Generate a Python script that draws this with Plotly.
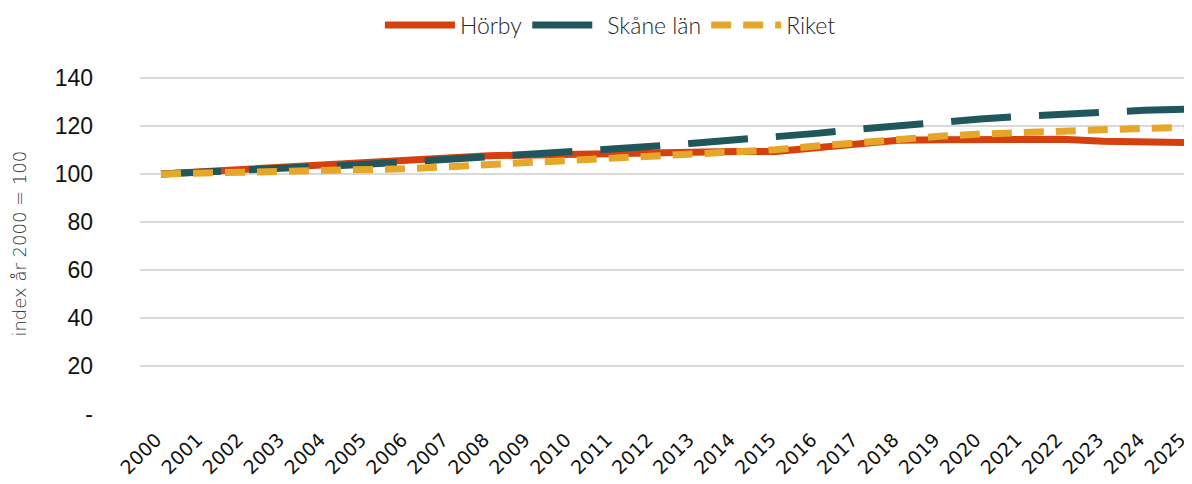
import plotly.graph_objects as go

years = list(range(2000, 2026))
horby = [100, 100.9, 101.8, 102.6, 103.3, 104.1, 105.4, 106.6, 107.6, 108.0, 108.4, 108.7,
         108.9, 109.1, 109.3, 109.4, 111.0, 113.0, 114.0, 114.2, 114.3, 114.5, 114.5, 113.6, 113.1, 113.1]
skane = [100, 100.7, 101.4, 102.2, 103.0, 104.0, 105.0, 106.0, 107.0, 108.3, 109.4, 110.4,
         111.5, 112.8, 114.0, 115.3, 116.9, 118.6, 120.2, 121.7, 122.9, 124.0, 125.0, 125.8, 126.5, 127.0]
riket = [100, 100.3, 100.6, 101.0, 101.3, 101.7, 102.2, 103.0, 103.9, 104.8, 105.7, 106.6,
         107.4, 108.2, 109.0, 110.1, 111.6, 113.2, 114.5, 115.7, 116.6, 117.3, 118.0, 118.5, 119.0, 119.3]
ytick_vals = [0, 20, 40, 60, 80, 100, 120, 140]
ytick_text = ["-", "20", "40", "60", "80", "100", "120", "140"]

fig = go.Figure()
fig.add_trace(go.Scatter(x=years, y=horby, name="Hörby", mode="lines",
                         line=dict(color="#d6400f", width=7)))
fig.add_trace(go.Scatter(x=years, y=skane, name="Skåne län", mode="lines",
                         line=dict(color="#20575c", width=7, dash="60px,28px")))
fig.add_trace(go.Scatter(x=years, y=riket, name="Riket", mode="lines",
                         line=dict(color="#e6a729", width=7, dash="20px,12px")))

fig.update_layout(
    width=1184, height=476,
    margin=dict(l=132, r=2, t=68, b=70),
    plot_bgcolor="white", paper_bgcolor="white",
    legend=dict(orientation="h", x=0.448, xanchor="center",
                yref="container", y=0.964, yanchor="middle",
                font=dict(family="Lato", size=23, color="#262626", weight=300),
                itemwidth=70),
    xaxis=dict(range=[1999.487, 2025.12], tickvals=years, ticktext=[str(y) for y in years],
               tickangle=-45, showgrid=False, zeroline=False, showline=False,
               automargin=False, ticklabelstandoff=10, ticklabeloverflow="allow",
               ticklabelshift=-5,
               tickfont=dict(family="DejaVu Sans", size=19, color="#111")),
    yaxis=dict(range=[0, 140.8], tickvals=ytick_vals, ticktext=ytick_text,
               showgrid=True, gridcolor="#d9d9d9", gridwidth=2, zeroline=False,
               automargin=False, ticklabelstandoff=46,
               tickfont=dict(family="Liberation Sans", size=23, color="#111")),
    showlegend=True,
)
fig.add_annotation(text="index år 2000 = 100", xref="paper", yref="paper",
                   x=-0.115, y=0.505, xanchor="center", yanchor="middle",
                   textangle=-90, showarrow=False,
                   font=dict(family="DejaVu Sans", size=18, color="#303030", weight=200))
fig.write_html("out.html")
